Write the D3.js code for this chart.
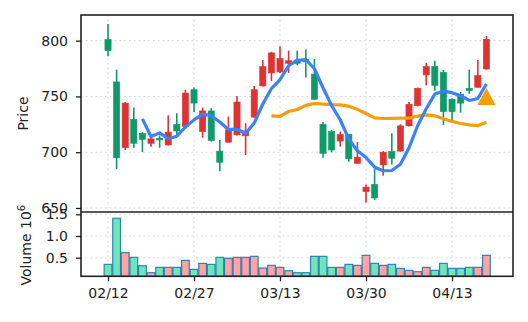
<!DOCTYPE html>
<html><head><meta charset="utf-8">
<script src="https://cdn.jsdelivr.net/npm/d3@7"></script>
<style>body{margin:0;background:#fff}svg{display:block}text{font-family:"DejaVu Sans",sans-serif;fill:#222}</style>
</head><body><svg id="c" width="528" height="322"></svg>
<script>
// ---- data ----
const openP  = [801,763,704,729.5,717,708,712.5,706.5,725,723,756,718.5,737,701,709,715.5,714.7,731.5,759.4,771,772,779.7,782.7,783,770,725,718.5,710,716,690,664.7,671,688.6,700.6,701,723.6,741.8,769.3,777,771.7,747.5,752,757.3,758.2,774.6];
const highP  = [815,774,745,740,718,712.5,715,733,735,756,758,740,739.5,711,732,750.4,726,759.4,782.7,790,795,791,791,792,783.5,727,720,718.5,716.5,709,671,685,701,717,725,745,758,780,782,773.7,748.4,754,774,782.7,804.2];
const lowP   = [786,685,702,704,700,705,704,706,715.5,721,736,713,709.5,683,708.5,715,697.5,731,759,764,771,771,778,767,747,695,700,705,691.5,690,655,657,679,689,700.5,723,741,760,755,724.5,728,735.5,752.5,758,774];
const closeP = [791,695,744,708,711.6,712,711,718,719,753,744,737,710.5,691,720,745,719,756,776.7,789,784,782,779.7,781,747.5,699,702,716,694,695.5,668.7,659,700,694.6,723.6,743,757.3,776.7,760,736.4,736.4,744,755.2,768.7,801.2];
const volumeM = [0.346,1.408,0.615,0.508,0.315,0.154,0.277,0.277,0.277,0.438,0.231,0.369,0.346,0.508,0.485,0.508,0.508,0.531,0.262,0.323,0.277,0.2,0.154,0.154,0.531,0.531,0.277,0.277,0.346,0.323,0.554,0.369,0.323,0.346,0.254,0.208,0.177,0.277,0.208,0.369,0.254,0.254,0.277,0.277,0.554];
const ma5Start = 4;
const ma5 = [729.9,714.1,717.3,712.1,714.3,722.6,729,734.2,732.7,727.1,720.4,720.6,717,726.1,743.2,757.1,765,777.5,782.3,783.1,774.8,757.8,741.8,729.1,711.7,701.3,695.2,686.6,683.4,683.6,689.2,704,723.7,739,752.1,754.7,753.4,750.7,746.4,748.1,761.1];
const ma20Start = 19;
const ma20 = [732.5,732.2,736.5,738.3,742.0,743.7,743.1,742.6,742.5,741.3,738.4,734.7,730.8,730.2,730.4,730.6,730.5,732.4,733.5,732.6,730.0,727.6,725.7,724.5,723.9,726.6];
const tickIdx = [0,10,20,30,40];
const tickLabels = ["02/12","02/27","03/13","03/30","04/13"];
const priceTicks = [650,700,750,800];
const volTicks = [0.5,1.0,1.5];
const signalIdx = [44];
const signalVal = [750];

// ---- layout ----
const L=81, R=513, T=15, MID=212, B=276.3;
const UP="#dd3333", DOWN="#109a6a";
const svg = d3.select("#c");
const n = closeP.length;
const x = d3.scaleLinear().domain([-3.14,47.09]).range([L,R]);
const y = d3.scaleLinear().domain([646.4,823]).range([MID,T]);
const yv = d3.scaleLinear().domain([0.071,1.553]).range([B,MID]);
const step = x(1)-x(0);

// grids
const grid = svg.append("g").attr("stroke","#d6d6d6").attr("stroke-width",1.1).attr("stroke-dasharray","1.6,3.2");
tickIdx.forEach(t=>{
  grid.append("line").attr("x1",x(t)).attr("x2",x(t)).attr("y1",T).attr("y2",MID);
  grid.append("line").attr("x1",x(t)).attr("x2",x(t)).attr("y1",MID).attr("y2",B);
});
priceTicks.forEach(v=>grid.append("line").attr("x1",L).attr("x2",R).attr("y1",y(v)).attr("y2",y(v)));
volTicks.forEach(v=>grid.append("line").attr("x1",L).attr("x2",R).attr("y1",yv(v)).attr("y2",yv(v)));

// candles
const idx = d3.range(n);
const cg = svg.append("g");
const isUp = i => closeP[i] >= openP[i];
cg.selectAll("line.w").data(idx).join("line")
  .attr("x1",i=>x(i)).attr("x2",i=>x(i)).attr("y1",i=>y(highP[i])).attr("y2",i=>y(lowP[i]))
  .attr("stroke",i=>isUp(i)?UP:DOWN).attr("stroke-width",1.6);
const bw = step*0.72;
cg.selectAll("rect").data(idx).join("rect")
  .attr("x",i=>x(i)-bw/2).attr("width",bw)
  .attr("y",i=>y(Math.max(openP[i],closeP[i])))
  .attr("height",i=>Math.max(1.2,Math.abs(y(openP[i])-y(closeP[i]))))
  .attr("fill",i=>isUp(i)?UP:DOWN).attr("stroke",i=>isUp(i)?UP:DOWN).attr("stroke-width",0.6);

// MA lines
const lineG = d3.line().x(d=>x(d[0])).y(d=>y(d[1]));
svg.append("path").datum(ma20.map((v,k)=>[k+ma20Start,v])).attr("d",lineG)
  .attr("fill","none").attr("stroke","#f59e0b").attr("stroke-width",3.2).attr("stroke-linejoin","round").attr("stroke-linecap","butt");
svg.append("path").datum(ma5.map((v,k)=>[k+ma5Start,v])).attr("d",lineG)
  .attr("fill","none").attr("stroke","#3b82f6").attr("stroke-width",3.2).attr("stroke-linejoin","round").attr("stroke-linecap","butt");

// signal triangle
svg.selectAll("path.sig").data(signalIdx).join("path")
  .attr("d",(d,k)=>{const cx=x(d), cy=y(signalVal[k]); return `M${cx},${cy-8.5}L${cx+9},${cy+8.5}L${cx-9},${cy+8.5}Z`;})
  .attr("fill","#f59e0b");

// volume bars
const vb = step*0.9;
svg.append("g").selectAll("rect").data(idx).join("rect")
  .attr("x",i=>x(i)-vb/2).attr("width",vb)
  .attr("y",i=>yv(volumeM[i])).attr("height",i=>B-yv(volumeM[i]))
  .attr("fill",i=>isUp(i)?"#ffa3a3":"#70e6b8")
  .attr("stroke","#1f77b4").attr("stroke-width",1.2).attr("stroke-opacity",0.9);

// spines
const sp = svg.append("g").attr("stroke","#222").attr("stroke-width",1.6).attr("fill","none");
sp.append("rect").attr("x",L).attr("y",T).attr("width",R-L).attr("height",B-T);
sp.append("line").attr("x1",L).attr("x2",R).attr("y1",MID).attr("y2",MID);

// axes
const ax1 = svg.append("g").attr("transform",`translate(${L},0)`)
  .call(d3.axisLeft(y).tickValues(priceTicks).tickSize(5).tickPadding(8).tickFormat(d3.format("d")));
const ax2 = svg.append("g").attr("transform",`translate(${L},0)`)
  .call(d3.axisLeft(yv).tickValues(volTicks).tickSize(5).tickPadding(8).tickFormat(d3.format(".1f")));
const ax3 = svg.append("g").attr("transform",`translate(0,${B})`)
  .call(d3.axisBottom(x).tickValues(tickIdx).tickSize(5).tickPadding(7).tickFormat((d,k)=>tickLabels[k]));
[ax1,ax2,ax3].forEach(a=>{
  a.select(".domain").remove();
  a.selectAll(".tick line").attr("stroke","#222").attr("stroke-width",1.3);
  a.selectAll(".tick text").attr("font-size",14).attr("font-family","DejaVu Sans").attr("fill","#222");
});

// labels
svg.append("text").attr("transform",`translate(28,${(T+MID)/2}) rotate(-90)`)
  .attr("text-anchor","middle").attr("font-size",14).text("Price");
const vl = svg.append("text").attr("transform",`translate(31,${(MID+B)/2+1}) rotate(-90)`)
  .attr("text-anchor","middle").attr("font-size",14);
vl.append("tspan").text("Volume  10");
vl.append("tspan").attr("dy",-6).attr("font-size",10).text("6");
</script></body></html>
